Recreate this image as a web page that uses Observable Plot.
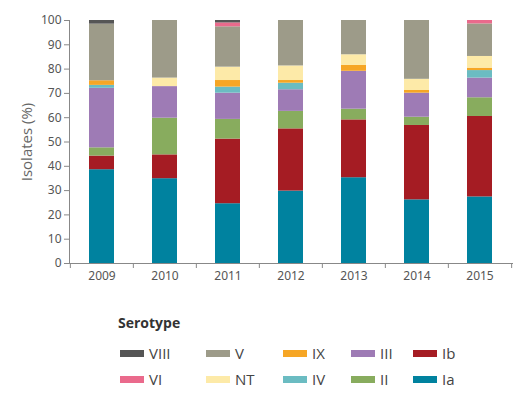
<!DOCTYPE html>
<html><head><meta charset="utf-8">
<script src="https://cdn.jsdelivr.net/npm/d3@7"></script>
<script src="https://cdn.jsdelivr.net/npm/@observablehq/plot@0.6"></script>
<style>
body{margin:0;background:#fff;font-family:"Open Sans",sans-serif;}
#wrap{position:relative;width:527px;height:400px;overflow:hidden;}
#legend{position:absolute;left:0;top:290px;width:527px;height:110px;color:#444;}
#legend .title{position:absolute;left:118px;top:23px;font-weight:bold;font-size:14px;color:#333;}
#legend .sw{position:absolute;width:24px;height:7px;}
#legend .lb{position:absolute;font-size:15px;line-height:18px;color:#444;}
</style></head><body><div id="wrap"><div id="chart"></div><div id="legend"></div></div>
<script>
const years = ["2009","2010","2011","2012","2013","2014","2015"];
const serotypes = ["Ia","Ib","II","III","IV","IX","NT","V","VI","VIII"];
const colors = ["#00829f","#a51c23","#88ac5e","#9e7bb5","#6bbcc2","#f6a625","#fdeaa8","#9d9b89","#ea6a8c","#555555"];
const Ia   = [38.6,34.9,24.6,29.8,35.3,26.2,27.4];
const Ib   = [5.6,9.8,26.6,25.6,23.8,30.6,33.1];
const II   = [3.4,15.1,8.1,7.2,4.4,3.4,7.7];
const III  = [24.5,13.0,10.8,8.9,15.6,9.9,8.1];
const IV   = [1.2,0,2.5,2.7,0,0,3.1];
const IX   = [1.9,0,2.7,1.1,2.4,1.1,1.0];
const NT   = [0,3.5,5.5,6.0,4.4,4.6,4.8];
const V    = [23.3,23.7,16.6,18.7,14.1,24.2,13.4];
const VI   = [0,0,1.6,0,0,0,1.4];
const VIII = [1.5,0,1.0,0,0,0,0];
const yTicks = [0,10,20,30,40,50,60,70,80,90,100];

const series = {Ia, Ib, II, III, IV, IX, NT, V, VI, VIII};
const table = [];
for (const s of serotypes) series[s].forEach((v, i) => { if (v > 0) table.push({year: years[i], serotype: s, value: v}); });

const W = 527, H = 290, ML = 69, MR = 15;
const step = (W - ML - MR) / years.length;

const plot = Plot.plot({
  width: W, height: H,
  marginLeft: ML, marginRight: MR, marginTop: 20, marginBottom: 27,
  style: {fontFamily: "'Noto Sans', sans-serif", fontSize: "12px", color: "#555", background: "#fff"},
  x: {type: "band", domain: years, paddingInner: 0.6, paddingOuter: 0.3, label: null},
  y: {domain: [0, 100], label: null},
  color: {domain: serotypes, range: colors},
  marks: [
    Plot.barY(table, {x: "year", y: "value", fill: "serotype", order: serotypes}),
    Plot.frame({anchor: "left", stroke: "#888"}),
    Plot.frame({anchor: "bottom", stroke: "#888"}),
    Plot.axisY({ticks: yTicks, tickSize: 5, tickPadding: 3, stroke: "#888", label: null, letterSpacing: "0.8px", fill: "#555"}),
    Plot.axisY({ticks: [], label: "Isolates (%)", labelAnchor: "center", labelArrow: "none", labelOffset: 48, fontSize: 15, fill: "#666", fontFamily: "'Open Sans', sans-serif"}),
    Plot.axisX({tickSize: 0, tickPadding: 8, label: null, letterSpacing: "0.8px", fill: "#555"}),
    Plot.axisX(years, {tickSize: 5, text: null, label: null, dx: -step / 2, stroke: "#888"}),
    Plot.axisX([years[years.length - 1]], {tickSize: 5, text: null, label: null, dx: step / 2, stroke: "#888"})
  ]
});
document.getElementById("chart").appendChild(plot);

// legend (column-major, reverse stacking order)
const leg = document.getElementById("legend");
const t = document.createElement("div"); t.className = "title"; t.textContent = "Serotype"; leg.appendChild(t);
const colX = [120, 206, 283, 351, 413];
const rowY = [63, 89];
const order = serotypes.slice().reverse();
order.forEach((s, k) => {
  const c = Math.floor(k / 2), r = k % 2;
  const sw = document.createElement("div"); sw.className = "sw";
  sw.style.left = colX[c] + "px"; sw.style.top = (rowY[r] - 3.5) + "px";
  sw.style.background = colors[serotypes.indexOf(s)];
  leg.appendChild(sw);
  const lb = document.createElement("div"); lb.className = "lb";
  lb.style.left = (colX[c] + 29) + "px"; lb.style.top = (rowY[r] - 9) + "px";
  lb.textContent = s;
  leg.appendChild(lb);
});
</script></body></html>
